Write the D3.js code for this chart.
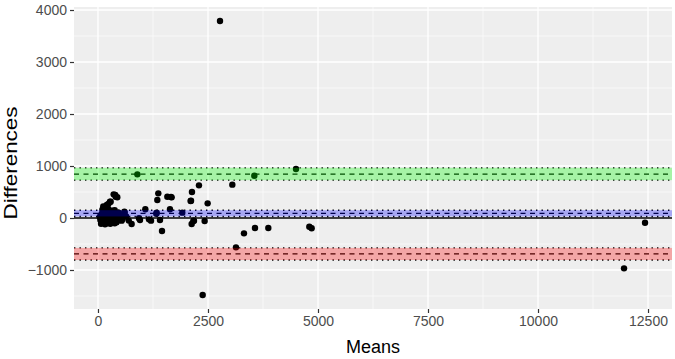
<!DOCTYPE html>
<html>
<head>
  <meta charset="utf-8">
  <style>
    html, body { margin: 0; padding: 0; background: #fff; }
    svg { display: block; font-family: "Liberation Sans", Arial, sans-serif; }
  </style>
</head>
<body>
  <svg id="svg" width="675" height="359"></svg>
  <script src="https://d3js.org/d3.v7.min.js"></script>
  <script>
    // means (x) and differences (y) of each pair
    const means = [
      40, 55, 65, 75, 85, 95, 105, 115, 125, 135, 145, 155, 165, 175, 185, 195, 205, 215, 230, 245,
      260, 275, 290, 305, 320, 340, 360, 380, 400, 420, 445, 470, 500, 530, 560, 600, 640, 700,
      70, 100, 130, 160, 200, 240, 280, 330, 380, 430, 90, 150, 210, 300, 420, 520,
      174, 235, 273, 288, 356, 402, 393, 439, 120, 200,
      538, 606, 765, 895, 932, 955, 1076, 1159, 1205, 1326, 1333, 1349, 1371, 1409, 1455,
      1576, 1636, 1659, 1674, 1916, 2106, 2114, 2129, 2136, 2167, 2182, 2295, 2379, 2424, 2492,
      2773, 3053, 3136, 3318, 3553, 3568, 3871, 4500, 4803, 4856, 11955, 12432
    ]
    const diffs = [
      20, -40, 60, 10, -70, 90, 30, -20, 120, 50, -90, 0, 140, 70, -30, 100, 20, -60, 40, 110,
      -10, 60, 130, -50, 20, 80, -30, 150, 40, -80, 10, 100, -40, 60, -20, 120, 30, -50,
      -110, 160, 190, -120, -100, 170, -110, 140, -100, 90, 0, 60, 180, 110, -70, 40,
      186, 269, 313, 314, 455, 410, 442, 400, 220, 250,
      -51, 103, -115, 840, -6, -38, 167, -26, -51, 83, 103, 346, 474, -38, -250,
      410, 167, 404, 397, 103, 327, 333, -115, 500, -58, -51, 628, -1481, -58, 282,
      3788, 641, -564, -295, 814, -192, -192, 942, -167, -198, -968, -90
    ]
    const points = means.map((m, i) => ({ m, d: diffs[i] }))

    // agreement statistics: estimate, lower and upper confidence limit
    const bias = [90, 30, 150]
    const lowerLoA = [-690, -808, -575]
    const upperLoA = [845, 728, 965]
    const bandColors = ["#0000FF", "#FF0000", "#00FF00"]

    const xTicks = [0, 2500, 5000, 7500, 10000, 12500]
    const xMinor = [1250, 3750, 6250, 8750, 11250]
    const yTicks = [-1000, 0, 1000, 2000, 3000, 4000]
    const yMinor = [-1500, -500, 500, 1500, 2500, 3500]

    const pLeft = 74, pRight = 672, pTop = 7, pBottom = 309

    const x = d3.scaleLinear().domain([-545, 13045]).range([pLeft, pRight])
    const y = d3.scaleLinear().domain([-1750, 4058]).range([pBottom, pTop])

    const svg = d3.select("#svg")

    svg.append("rect")
      .attr("x", pLeft).attr("y", pTop)
      .attr("width", pRight - pLeft).attr("height", pBottom - pTop)
      .attr("fill", "#EEEEEE")

    const grid = svg.append("g")
    grid.selectAll(".vminor").data(xMinor).join("line")
      .attr("x1", d => x(d)).attr("x2", d => x(d))
      .attr("y1", pTop).attr("y2", pBottom)
      .attr("stroke", "#fff").attr("stroke-width", 0.6)
    grid.selectAll(".hminor").data(yMinor).join("line")
      .attr("y1", d => y(d)).attr("y2", d => y(d))
      .attr("x1", pLeft).attr("x2", pRight)
      .attr("stroke", "#fff").attr("stroke-width", 0.6)
    grid.selectAll(".vmajor").data(xTicks).join("line")
      .attr("x1", d => x(d)).attr("x2", d => x(d))
      .attr("y1", pTop).attr("y2", pBottom)
      .attr("stroke", "#fff").attr("stroke-width", 1.3)
    grid.selectAll(".hmajor").data(yTicks).join("line")
      .attr("y1", d => y(d)).attr("y2", d => y(d))
      .attr("x1", pLeft).attr("x2", pRight)
      .attr("stroke", "#fff").attr("stroke-width", 1.3)

    // points
    svg.append("g").selectAll("circle").data(points).join("circle")
      .attr("cx", d => x(d.m)).attr("cy", d => y(d.d))
      .attr("r", 3.2).attr("fill", "#000")

    // zero line
    svg.append("line")
      .attr("x1", pLeft).attr("x2", pRight)
      .attr("y1", y(0)).attr("y2", y(0))
      .attr("stroke", "#000").attr("stroke-width", 1.4)

    const stats = [bias, lowerLoA, upperLoA]
    const lines = svg.append("g")
    stats.forEach(s => {
      lines.append("line")
        .attr("x1", pLeft).attr("x2", pRight)
        .attr("y1", y(s[0])).attr("y2", y(s[0]))
        .attr("stroke", "#000").attr("stroke-width", 1.2)
        .attr("stroke-dasharray", "5,4.5")
      ;[s[1], s[2]].forEach(v => {
        lines.append("line")
          .attr("x1", pLeft).attr("x2", pRight)
          .attr("y1", y(v)).attr("y2", y(v))
          .attr("stroke", "#000").attr("stroke-width", 1.4)
          .attr("stroke-dasharray", "1.4,4.1")
      })
    })

    // translucent confidence bands over everything
    svg.append("g").selectAll("rect").data(stats).join("rect")
      .attr("x", pLeft).attr("width", pRight - pLeft)
      .attr("y", d => y(d[2])).attr("height", d => y(d[1]) - y(d[2]))
      .attr("fill", (d, i) => bandColors[i]).attr("opacity", 0.3)

    // axes
    const xAxis = svg.append("g")
      .attr("transform", `translate(0, ${pBottom})`)
      .call(d3.axisBottom(x).tickValues(xTicks).tickFormat(d3.format("d")).tickSize(4).tickPadding(3))
    const yAxis = svg.append("g")
      .attr("transform", `translate(${pLeft}, 0)`)
      .call(d3.axisLeft(y).tickValues(yTicks).tickFormat(d3.format("d")).tickSize(4).tickPadding(3))
    ;[xAxis, yAxis].forEach(a => {
      a.select(".domain").remove()
      a.selectAll(".tick line").attr("stroke", "#333").attr("stroke-width", 1.2)
      a.selectAll(".tick text").attr("fill", "#4D4D4D").attr("font-size", 14)
        .attr("font-family", "Liberation Sans, Arial, sans-serif")
    })

    svg.append("text")
      .attr("x", (pLeft + pRight) / 2).attr("y", 353)
      .attr("text-anchor", "middle").attr("font-size", 18).attr("fill", "#000")
      .text("Means")
    svg.append("text")
      .attr("transform", `translate(17, 163) rotate(-90)`)
      .attr("text-anchor", "middle").attr("font-size", 18).attr("fill", "#000")
      .attr("textLength", 113).attr("lengthAdjust", "spacingAndGlyphs")
      .text("Differences")
  </script>
</body>
</html>
